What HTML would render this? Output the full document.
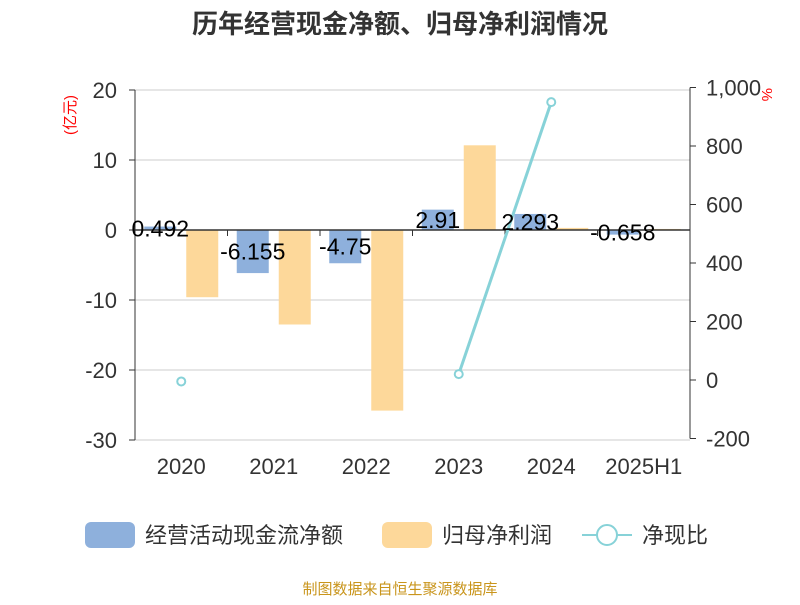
<!DOCTYPE html>
<html><head><meta charset="utf-8"><style>
body{margin:0;background:#fff}
svg text{font-family:"Liberation Sans","Noto Sans CJK SC",sans-serif}
</style></head><body>
<svg width="800" height="600" xmlns="http://www.w3.org/2000/svg">
<text x="400" y="33" text-anchor="middle" font-size="26" font-weight="bold" fill="#333">历年经营现金净额、归母净利润情况</text>
<g id="grid"></g><g id="bars"></g><g id="axes"></g><g id="line"></g><g id="labels"></g>
<text x="75" y="115" font-size="15" fill="red" transform="rotate(-90 75 115)" text-anchor="middle">(亿元)</text>
<text x="762" y="88" font-size="15" fill="red" transform="rotate(90 762 88)">%</text>
<g>
<rect x="85" y="522" width="50" height="26" rx="6" fill="#8eb0dc"/>
<text x="145" y="543" font-size="22" fill="#333">经营活动现金流净额</text>
<rect x="382" y="522" width="50" height="26" rx="6" fill="#fdd89a"/>
<text x="442" y="543" font-size="22" fill="#333">归母净利润</text>
<line x1="582" y1="535" x2="632" y2="535" stroke="#87d2d8" stroke-width="2"/>
<circle cx="607" cy="535" r="10" fill="#fff" stroke="#87d2d8" stroke-width="2"/>
<text x="642" y="543" font-size="22" fill="#333">净现比</text>
</g>
<text x="400" y="594" text-anchor="middle" font-size="15" fill="#c9951c">制图数据来自恒生聚源数据库</text>
</svg>
<script>
const categories=["2020","2021","2022","2023","2024","2025H1"];
const cashFlow=[0.492,-6.155,-4.75,2.91,2.293,-0.658];
const cashLabels=["0.492","-6.155","-4.75","2.91","2.293","-0.658"];
const netProfit=[-9.6,-13.5,-25.8,12.1,0.3,0.15];
const ratio=[-5,null,null,20,950,null];
const leftTicks=[20,10,0,-10,-20,-30];
const rightTicks=[1000,800,600,400,200,0,-200];
const rightTickLabels=["1,000","800","600","400","200","0","-200"];
const NS="http://www.w3.org/2000/svg";
const x0=135,x1=690,bw=(x1-x0)/categories.length;
const cx=i=>x0+bw*(i+0.5);
const yL=v=>230-v*7;
const yR=v=>380-v*0.2925;
function mk(p,tag,a){const e=document.createElementNS(NS,tag);for(const k in a)e.setAttribute(k,a[k]);document.getElementById(p).appendChild(e);return e;}
leftTicks.forEach(t=>{
 const g=mk("grid","line",{x1:x0,x2:x1,y1:yL(t),y2:yL(t),stroke:"#ccc","stroke-width":1});
 
 
 const l=mk("axes","text",{x:x0-18,y:yL(t)+8,"text-anchor":"end","font-size":22,fill:"#333"});l.textContent=t;
 
 
 mk("axes","line",{x1:x0-6,x2:x0,y1:yL(t),y2:yL(t),stroke:"#333"});
});
rightTicks.forEach((t,i)=>{
 const l=mk("axes","text",{x:x1+16,y:yR(t)+8,"font-size":22,fill:"#333"});l.textContent=rightTickLabels[i];
 
 
 mk("axes","line",{x1:x1,x2:x1+6,y1:yR(t),y2:yR(t),stroke:"#333"});
});
mk("axes","line",{x1:x0,x2:x0,y1:yL(20),y2:yL(-30),stroke:"#333"});
mk("axes","line",{x1:x1,x2:x1,y1:yR(1000),y2:yR(-200),stroke:"#333"});
mk("axes","line",{x1:x0,x2:x1,y1:yL(0),y2:yL(0),stroke:"#333","stroke-width":1.5});
categories.forEach((c,i)=>{
 const l=mk("axes","text",{x:cx(i),y:474,"text-anchor":"middle","font-size":22,fill:"#333"});l.textContent=c;
 
 
 mk("axes","line",{x1:x0+bw*i,x2:x0+bw*i,y1:yL(0),y2:yL(0)+6,stroke:"#333"});
 const v=cashFlow[i],b=mk("bars","rect",{x:cx(i)-37,width:32,y:Math.min(yL(0),yL(v)),height:Math.abs(yL(v)-yL(0)),fill:"#8eb0dc"});
 
 
 const p=netProfit[i],o=mk("bars","rect",{x:cx(i)+5,width:32,y:Math.min(yL(0),yL(p)),height:Math.abs(yL(p)-yL(0)),fill:"#fdd89a"});
 
 
 const ly=(yL(v)+yL(0))/2+8;
 const t=mk("labels","text",{x:cx(i)-21,y:ly,"text-anchor":"middle","font-size":23,fill:"#000"});t.textContent=cashLabels[i];
 
 
});
let segs=[],cur=[];
ratio.forEach((r,i)=>{if(r===null){if(cur.length)segs.push(cur);cur=[];}else cur.push([cx(i),yR(r)]);});
if(cur.length)segs.push(cur);
segs.forEach(s=>{if(s.length>1){const pl=mk("line","polyline",{points:s.map(p=>p.join(",")).join(" "),fill:"none",stroke:"#87d2d8","stroke-width":3});
 
 }});
ratio.forEach((r,i)=>{if(r!==null){const c=mk("line","circle",{cx:cx(i),cy:yR(r),r:4,fill:"#fff",stroke:"#87d2d8","stroke-width":2});
 
 }});
</script>
</body></html>
